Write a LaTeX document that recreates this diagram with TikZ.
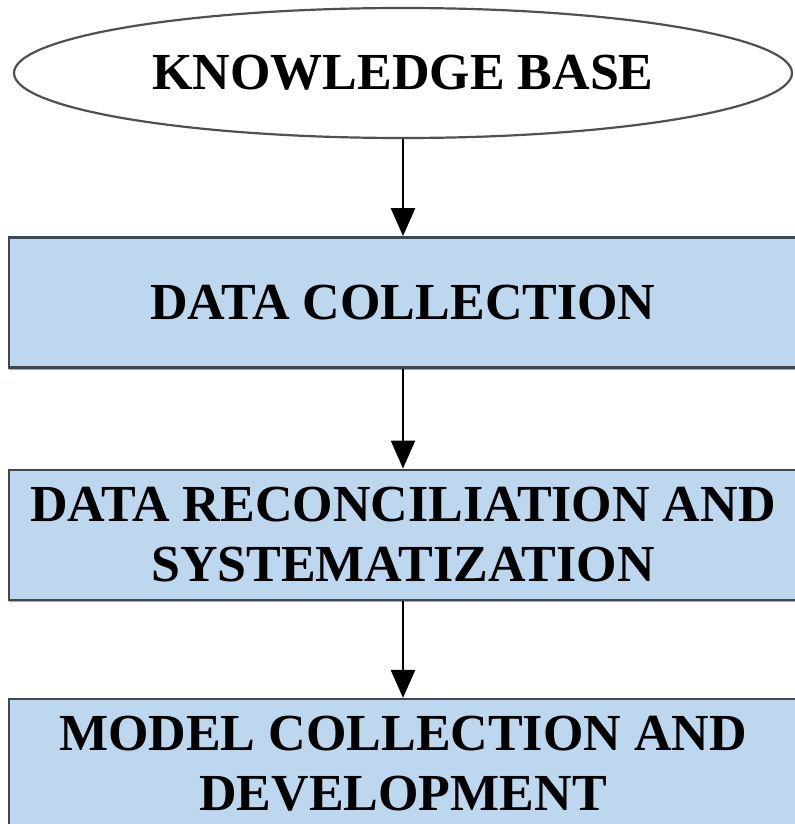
\documentclass[tikz,border=0pt]{standalone}
\usepackage{fontspec}
\setmainfont{Liberation Serif}
\usepackage{xcolor}
\usepackage{tikz}
\usetikzlibrary{
  arrows.meta,
  shapes.geometric,
  positioning,
  shadows
}
\definecolor{kbFill}{HTML}{BDD7EE}
\definecolor{kbEdge}{HTML}{3E4852}
\definecolor{kbLine}{HTML}{505050}
\tikzset{
  kbnode/.style={
    inner sep=0pt, align=center,
    font=\fontsize{26}{30}\selectfont\bfseries
  },
  source/.style={kbnode, draw=kbLine, ellipse, fill=white, line width=1.1pt,
    minimum width=389pt, minimum height=65pt},
  stage/.style={kbnode, draw=kbEdge, fill=kbFill, line width=1.2pt,
    minimum width=394pt, minimum height=65pt,
    drop shadow={shadow xshift=0pt, shadow yshift=-1.2pt, opacity=0.35, fill=black}},
  flow/.style={-{Triangle[length=14pt, width=12pt]}, line width=1.3pt, black}
}

\begin{document}
\begin{tikzpicture}[node distance=48.5pt]
  \useasboundingbox (0pt,0pt) rectangle (397pt,-412pt);
  \node[source] (kb) at (201.5pt,-36.5pt) {KNOWLEDGE BASE};
  \node[stage, below=of kb] (dc) {DATA COLLECTION};
  \node[stage, below=50pt of dc] (dr) {DATA RECONCILIATION AND\\SYSTEMATIZATION};
  \node[stage, below=of dr] (md) {MODEL COLLECTION AND\\DEVELOPMENT};
  \draw[flow] (kb) -- (dc);
  \draw[flow] (dc) -- (dr);
  \draw[flow] (dr) -- (md);
\end{tikzpicture}
\end{document}
